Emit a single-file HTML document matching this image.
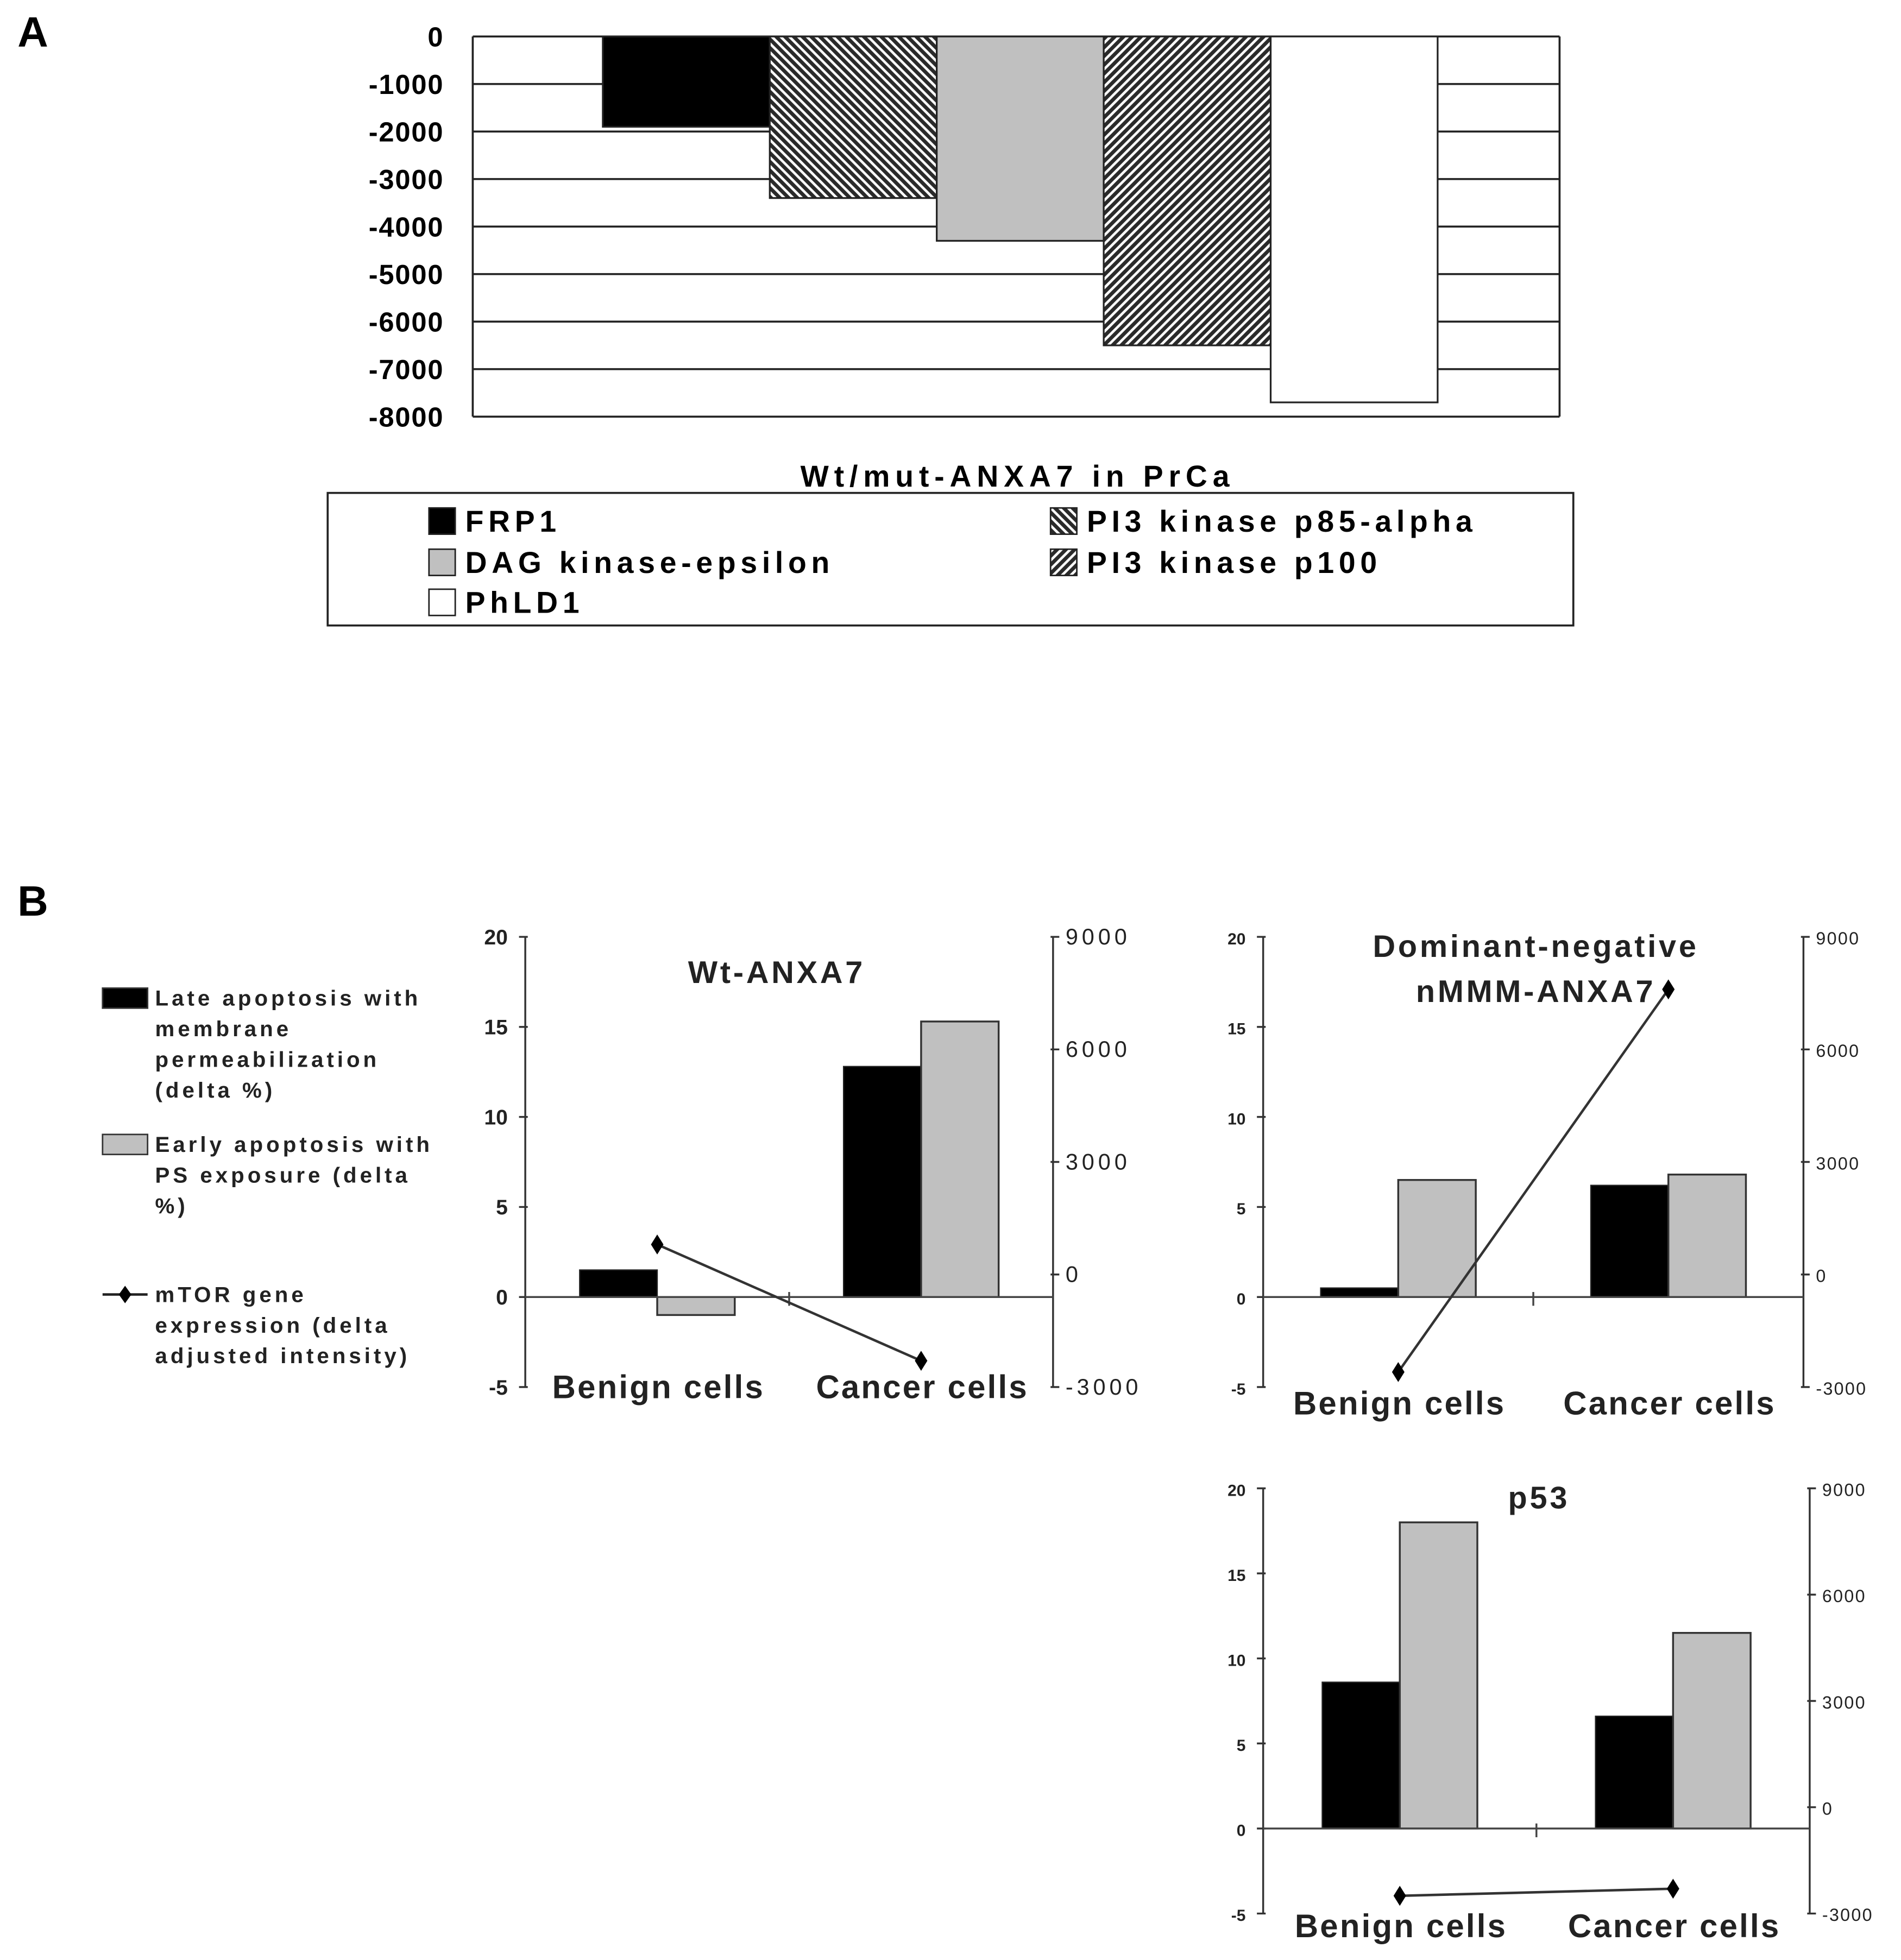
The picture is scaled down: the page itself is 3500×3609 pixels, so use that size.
<!DOCTYPE html>
<html><head><meta charset="utf-8"><style>
html,body{margin:0;padding:0;background:#fff;}
svg{display:block;}
text{font-family:"Liberation Sans",Arial,sans-serif;}
</style></head><body>
<svg id="fig" width="3500" height="3609" viewBox="0 0 1520 1567" xmlns="http://www.w3.org/2000/svg">
<defs>
<pattern id="hatchBack" patternUnits="userSpaceOnUse" width="7" height="7">
<rect width="7" height="7" fill="#2a2a2a"/>
<path d="M-2,-2 L9,9 M-2,5 L2,9 M5,-2 L9,2" stroke="#fff" stroke-width="2"/>
</pattern>
<pattern id="hatchFwd" patternUnits="userSpaceOnUse" width="7" height="7">
<rect width="7" height="7" fill="#2a2a2a"/>
<path d="M-2,9 L9,-2 M-2,2 L2,-2 M5,9 L9,5" stroke="#fff" stroke-width="2"/>
</pattern>
</defs>
<text x="14" y="37" font-size="34" font-weight="bold">A</text>
<text x="14" y="732" font-size="34" font-weight="bold">B</text>
<g id="panelA"></g>
<g id="panelB"></g>
</svg>
<script>
const aCategories = ["FRP1","PI3 kinase p85-alpha","DAG kinase-epsilon","PI3 kinase p100","PhLD1"];
const aValues = [-1900,-3400,-4300,-6500,-7700];
const aTicks = [0,-1000,-2000,-3000,-4000,-5000,-6000,-7000,-8000];
const aFills = ["#000","url(#hatchBack)","#c0c0c0","url(#hatchFwd)","#fff"];

const bCategories = ["Benign cells","Cancer cells"];
const wtLate = [1.5,12.8];
const wtEarly = [-1,15.3];
const wtMtor = [800,-2300];
const dnLate = [0.5,6.2];
const dnEarly = [6.5,6.8];
const dnMtor = [-2600,7600];
const p53Late = [8.6,6.6];
const p53Early = [18,11.5];
const p53Mtor = [-2500,-2300];
const leftTicks = [20,15,10,5,0,-5];
const rightTicks = [9000,6000,3000,0,-3000];

const NS="http://www.w3.org/2000/svg";
function mk(parent,tag,attrs,text){const e=document.createElementNS(NS,tag);for(const k in attrs)e.setAttribute(k,attrs[k]);if(text!==undefined)e.textContent=text;parent.appendChild(e);return e;}

// Panel A
(function(){
  const g=document.getElementById('panelA');
  const x0=378,x1=1247,yTop=29,yBot=333,vMin=-8000,vMax=0;
  const y=v=>yTop+(vMax-v)/(vMax-vMin)*(yBot-yTop);
  aTicks.forEach(t=>{
    const l=mk(g,'line',{x1:x0,x2:x1,y1:y(t),y2:y(t),stroke:'#222','stroke-width':1.6});
    
    
    const tx=mk(g,'text',{x:355,y:y(t)+8,'font-size':22,'font-weight':'bold','text-anchor':'end','letter-spacing':0.8},String(t));
    
    
  });
  mk(g,'line',{x1:x0,x2:x0,y1:yTop,y2:yBot,stroke:'#222','stroke-width':1.6});
  mk(g,'line',{x1:x1,x2:x1,y1:yTop,y2:yBot,stroke:'#222','stroke-width':1.6});
  const bw=133.5,start=482;
  aValues.forEach((v,i)=>{
    const r=mk(g,'rect',{x:start+i*bw,y:y(0),width:bw,height:y(v)-y(0),fill:aFills[i],stroke:'#222','stroke-width':1.4});
    
    
  });
  const t=mk(g,'text',{x:640,y:389,'font-size':24,'font-weight':'bold','letter-spacing':4.3},'Wt/mut-ANXA7 in PrCa');
  
  
  const lb=mk(g,'rect',{x:262,y:394,width:996,height:106,fill:'none',stroke:'#222','stroke-width':1.6});
  
  
  const pos=[[343,406],[840,406],[343,439],[840,439],[343,471]];
  [0,1,2,3,4].forEach(i=>{
    const [sx,sy]=pos[i];
    const e=mk(g,'g',{});
    
    
    mk(e,'rect',{x:sx,y:sy,width:21,height:21,fill:aFills[i],stroke:'#222','stroke-width':1.2});
    mk(e,'text',{x:sx+29,y:sy+19,'font-size':24,'font-weight':'bold','letter-spacing':3.8},aCategories[i]);
  });
})();

// Panel B
function drawPanel(g,name,x0,x1,yTop,yBot,late,early,mtor,title,titleYs,catY,small){
  const pg=mk(g,'g',{});
  
  
  const yl=v=>yTop+(20-v)/25*(yBot-yTop);
  const yr=v=>yTop+(9000-v)/12000*(yBot-yTop);
  const W=x1-x0,bw=62;
  const fs=small?13:17;
  const ff=small?'"Liberation Sans Narrow","Liberation Sans",sans-serif':'"Liberation Sans",sans-serif';
  mk(pg,'line',{x1:x0,x2:x0,y1:yTop,y2:yBot,stroke:'#333','stroke-width':1.5});
  mk(pg,'line',{x1:x1,x2:x1,y1:yTop,y2:yBot,stroke:'#333','stroke-width':1.5});
  leftTicks.forEach(t=>{
    mk(pg,'line',{x1:x0-5,x2:x0+2,y1:yl(t),y2:yl(t),stroke:'#333','stroke-width':1.5});
    const tx=mk(pg,'text',{x:x0-14,y:yl(t)+6,'font-size':fs,'font-weight':'bold','text-anchor':'end','font-family':ff,fill:'#222'},String(t));
    
    
  });
  rightTicks.forEach(t=>{
    mk(pg,'line',{x1:x1-2,x2:x1+5,y1:yr(t),y2:yr(t),stroke:'#333','stroke-width':1.5});
    const tx=mk(pg,'text',{x:x1+10,y:yr(t)+6,'font-size':small?14:18,'letter-spacing':small?1:3,'font-family':ff,fill:'#222'},String(t));
    
    
  });
  bCategories.forEach((c,i)=>{
    const cx=x0+(i+0.5)*W/2;
    const b1=mk(pg,'rect',{x:cx-bw,y:Math.min(yl(late[i]),yl(0)),width:bw,height:Math.abs(yl(late[i])-yl(0)),fill:'#000',stroke:'#222','stroke-width':1});
    
    
    const b2=mk(pg,'rect',{x:cx,y:Math.min(yl(early[i]),yl(0)),width:bw,height:Math.abs(yl(early[i])-yl(0)),fill:'#c0c0c0',stroke:'#333','stroke-width':1.5});
    
    
    const ct=mk(pg,'text',{x:cx+1,y:catY,'font-size':26,'font-weight':'bold','text-anchor':'middle','letter-spacing':1.4,fill:'#222'},c);
    
    
  });
  mk(pg,'line',{x1:x0,x2:x1,y1:yl(0),y2:yl(0),stroke:'#444','stroke-width':1.5});
  mk(pg,'line',{x1:x0+W/2,x2:x0+W/2,y1:yl(0)-4,y2:yl(0)+7,stroke:'#444','stroke-width':1.5});
  const pts=bCategories.map((c,i)=>[x0+(i+0.5)*W/2,yr(mtor[i])]);
  const ln=mk(pg,'polyline',{points:pts.map(p=>p.join(',')).join(' '),fill:'none',stroke:'#333','stroke-width':2});
  
  
  pts.forEach(p=>{
    const d=mk(pg,'path',{d:`M${p[0]},${p[1]-8} L${p[0]+5},${p[1]} L${p[0]},${p[1]+8} L${p[0]-5},${p[1]} Z`,fill:'#000'});
    
    
  });
  title.forEach((t,i)=>{
    const tt=mk(pg,'text',{x:(x0+x1)/2+(name==='wt-anxa7-chart'?-10:2),y:titleYs[i],'font-size':25,'font-weight':'bold','text-anchor':'middle','letter-spacing':2.1,fill:'#222'},t);
    
    
  });
}
(function(){
  const g=document.getElementById('panelB');
  drawPanel(g,'wt-anxa7-chart',420,842,749,1109,wtLate,wtEarly,wtMtor,['Wt-ANXA7'],[786],1118,false);
  drawPanel(g,'dn-anxa7-chart',1010,1442,749,1109,dnLate,dnEarly,dnMtor,['Dominant-negative','nMMM-ANXA7'],[765,801],1131,true);
  drawPanel(g,'p53-chart',1010,1447,1190,1530,p53Late,p53Early,p53Mtor,['p53'],[1206],1549,true);
  const lg=mk(g,'g',{});
  
  
  const items=[
    {lines:['Late apoptosis with','membrane','permeabilization','(delta %)'],y:798,type:'black'},
    {lines:['Early apoptosis with','PS exposure (delta','%)'],y:915,type:'gray'},
    {lines:['mTOR gene','expression (delta','adjusted intensity)'],y:1035,type:'line'}];
  items.forEach(it=>{
    const e=mk(lg,'g',{});
    
    
    if(it.type==='line'){
      mk(e,'line',{x1:82,x2:118,y1:it.y,y2:it.y,stroke:'#222','stroke-width':2});
      mk(e,'path',{d:`M100,${it.y-7} L105,${it.y} L100,${it.y+7} L95,${it.y} Z`,fill:'#000'});
    } else {
      mk(e,'rect',{x:82,y:it.y-8,width:36,height:16,fill:it.type==='black'?'#000':'#c0c0c0',stroke:'#333','stroke-width':1.2});
    }
    it.lines.forEach((l,j)=>mk(e,'text',{x:124,y:it.y+6+j*24.5,'font-size':17.5,'font-weight':'bold','letter-spacing':2.6,fill:'#222'},l));
  });
})();
</script>
</body></html>
